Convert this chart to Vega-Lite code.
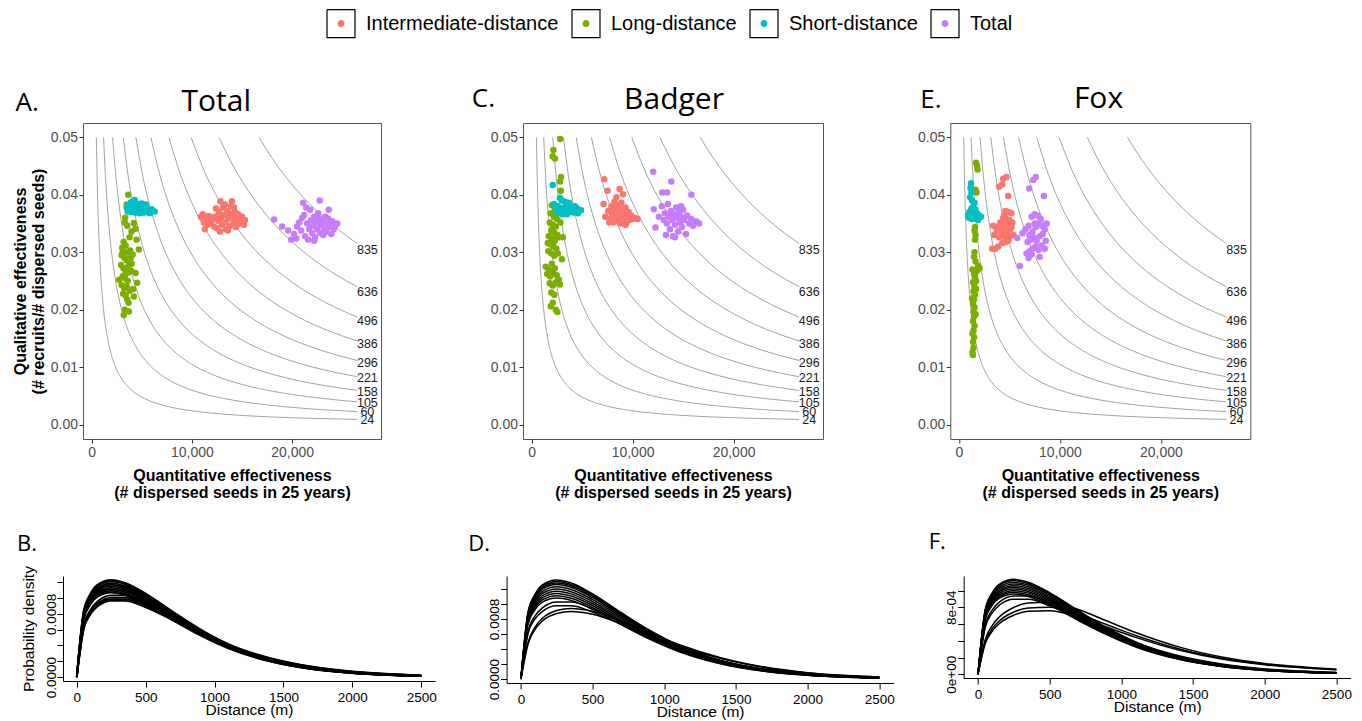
{
"$schema":"https://vega.github.io/schema/vega-lite/v6.json",
"background":"white",
"padding":{"left":12,"top":8,"right":5,"bottom":5},
"config":{"view":{"stroke":"#555555","strokeWidth":1},"font":"Liberation Sans","axis":{"grid":false,"labelFont":"Liberation Sans","titleFont":"Liberation Sans"}},
"datasets":{
"iso":[
{"E":24,"x":480,"y":0.05},{"E":24,"x":552,"y":0.043478},{"E":24,"x":624,"y":0.038462},{"E":24,"x":720,"y":0.033333},{"E":24,"x":840,"y":0.028571},{"E":24,"x":960,"y":0.025},{"E":24,"x":1128,"y":0.021277},{"E":24,"x":1320,"y":0.018182},{"E":24,"x":1560,"y":0.015385},{"E":24,"x":1848,"y":0.012987},{"E":24,"x":2160,"y":0.011111},{"E":24,"x":2520,"y":0.009524},{"E":24,"x":3000,"y":0.008},{"E":24,"x":3600,"y":0.006667},{"E":24,"x":4320,"y":0.005556},{"E":24,"x":5280,"y":0.004545},{"E":24,"x":6480,"y":0.003704},{"E":24,"x":7920,"y":0.00303},{"E":24,"x":9600,"y":0.0025},{"E":24,"x":12000,"y":0.002},{"E":24,"x":14400,"y":0.001667},{"E":24,"x":18000,"y":0.001333},{"E":24,"x":21600,"y":0.001111},{"E":24,"x":26500,"y":0.000906},
{"E":60,"x":1200,"y":0.05},{"E":60,"x":1380,"y":0.043478},{"E":60,"x":1560,"y":0.038462},{"E":60,"x":1800,"y":0.033333},{"E":60,"x":2100,"y":0.028571},{"E":60,"x":2400,"y":0.025},{"E":60,"x":2820,"y":0.021277},{"E":60,"x":3300,"y":0.018182},{"E":60,"x":3900,"y":0.015385},{"E":60,"x":4620,"y":0.012987},{"E":60,"x":5400,"y":0.011111},{"E":60,"x":6300,"y":0.009524},{"E":60,"x":7500,"y":0.008},{"E":60,"x":9000,"y":0.006667},{"E":60,"x":10800,"y":0.005556},{"E":60,"x":13200,"y":0.004545},{"E":60,"x":16200,"y":0.003704},{"E":60,"x":19800,"y":0.00303},{"E":60,"x":24000,"y":0.0025},{"E":60,"x":26500,"y":0.002264},
{"E":105,"x":2100,"y":0.05},{"E":105,"x":2415,"y":0.043478},{"E":105,"x":2730,"y":0.038462},{"E":105,"x":3150,"y":0.033333},{"E":105,"x":3675,"y":0.028571},{"E":105,"x":4200,"y":0.025},{"E":105,"x":4935,"y":0.021277},{"E":105,"x":5775,"y":0.018182},{"E":105,"x":6825,"y":0.015385},{"E":105,"x":8085,"y":0.012987},{"E":105,"x":9450,"y":0.011111},{"E":105,"x":11025,"y":0.009524},{"E":105,"x":13125,"y":0.008},{"E":105,"x":15750,"y":0.006667},{"E":105,"x":18900,"y":0.005556},{"E":105,"x":23100,"y":0.004545},{"E":105,"x":26500,"y":0.003962},
{"E":158,"x":3160,"y":0.05},{"E":158,"x":3634,"y":0.043478},{"E":158,"x":4108,"y":0.038462},{"E":158,"x":4740,"y":0.033333},{"E":158,"x":5530,"y":0.028571},{"E":158,"x":6320,"y":0.025},{"E":158,"x":7426,"y":0.021277},{"E":158,"x":8690,"y":0.018182},{"E":158,"x":10270,"y":0.015385},{"E":158,"x":12166,"y":0.012987},{"E":158,"x":14220,"y":0.011111},{"E":158,"x":16590,"y":0.009524},{"E":158,"x":19750,"y":0.008},{"E":158,"x":23700,"y":0.006667},{"E":158,"x":26500,"y":0.005962},
{"E":221,"x":4420,"y":0.05},{"E":221,"x":5083,"y":0.043478},{"E":221,"x":5746,"y":0.038462},{"E":221,"x":6630,"y":0.033333},{"E":221,"x":7735,"y":0.028571},{"E":221,"x":8840,"y":0.025},{"E":221,"x":10387,"y":0.021277},{"E":221,"x":12155,"y":0.018182},{"E":221,"x":14365,"y":0.015385},{"E":221,"x":17017,"y":0.012987},{"E":221,"x":19890,"y":0.011111},{"E":221,"x":23205,"y":0.009524},{"E":221,"x":26500,"y":0.00834},
{"E":296,"x":5920,"y":0.05},{"E":296,"x":6808,"y":0.043478},{"E":296,"x":7696,"y":0.038462},{"E":296,"x":8880,"y":0.033333},{"E":296,"x":10360,"y":0.028571},{"E":296,"x":11840,"y":0.025},{"E":296,"x":13912,"y":0.021277},{"E":296,"x":16280,"y":0.018182},{"E":296,"x":19240,"y":0.015385},{"E":296,"x":22792,"y":0.012987},{"E":296,"x":26500,"y":0.01117},
{"E":386,"x":7720,"y":0.05},{"E":386,"x":8878,"y":0.043478},{"E":386,"x":10036,"y":0.038462},{"E":386,"x":11580,"y":0.033333},{"E":386,"x":13510,"y":0.028571},{"E":386,"x":15440,"y":0.025},{"E":386,"x":18142,"y":0.021277},{"E":386,"x":21230,"y":0.018182},{"E":386,"x":25090,"y":0.015385},{"E":386,"x":26500,"y":0.014566},
{"E":496,"x":9920,"y":0.05},{"E":496,"x":11408,"y":0.043478},{"E":496,"x":12896,"y":0.038462},{"E":496,"x":14880,"y":0.033333},{"E":496,"x":17360,"y":0.028571},{"E":496,"x":19840,"y":0.025},{"E":496,"x":23312,"y":0.021277},{"E":496,"x":26500,"y":0.018717},
{"E":636,"x":12720,"y":0.05},{"E":636,"x":13674,"y":0.046512},{"E":636,"x":14628,"y":0.043478},{"E":636,"x":15582,"y":0.040816},{"E":636,"x":16536,"y":0.038462},{"E":636,"x":19080,"y":0.033333},{"E":636,"x":22260,"y":0.028571},{"E":636,"x":25440,"y":0.025},{"E":636,"x":26500,"y":0.024},
{"E":835,"x":16700,"y":0.05},{"E":835,"x":17953,"y":0.046512},{"E":835,"x":19205,"y":0.043478},{"E":835,"x":20458,"y":0.040816},{"E":835,"x":21710,"y":0.038462},{"E":835,"x":23380,"y":0.035714},{"E":835,"x":25050,"y":0.033333},{"E":835,"x":26500,"y":0.031509}
],
"isolab":[{"E":24,"x":27500,"y":0.000873},{"E":60,"x":27500,"y":0.002182},{"E":105,"x":27500,"y":0.003818},{"E":158,"x":27500,"y":0.005745},{"E":221,"x":27500,"y":0.008036},{"E":296,"x":27500,"y":0.010764},{"E":386,"x":27500,"y":0.014036},{"E":496,"x":27500,"y":0.018036},{"E":636,"x":27500,"y":0.023127},{"E":835,"x":27500,"y":0.030364}],
"ptsA":[
{"g":"Long-distance","x":3650,"y":0.0400},{"g":"Long-distance","x":3500,"y":0.0383},{"g":"Long-distance","x":3350,"y":0.0360},{"g":"Long-distance","x":3320,"y":0.0352},{"g":"Long-distance","x":3560,"y":0.0346},{"g":"Long-distance","x":4220,"y":0.0351},{"g":"Long-distance","x":4390,"y":0.0341},{"g":"Long-distance","x":3990,"y":0.0336},{"g":"Long-distance","x":3790,"y":0.0326},{"g":"Long-distance","x":4490,"y":0.0322},{"g":"Long-distance","x":4720,"y":0.0305},{"g":"Long-distance","x":3060,"y":0.0308},{"g":"Long-distance","x":3200,"y":0.0318},{"g":"Long-distance","x":3400,"y":0.0312},{"g":"Long-distance","x":3600,"y":0.0300},{"g":"Long-distance","x":3850,"y":0.0303},{"g":"Long-distance","x":4100,"y":0.0296},{"g":"Long-distance","x":3000,"y":0.0295},{"g":"Long-distance","x":3300,"y":0.0290},{"g":"Long-distance","x":3500,"y":0.0286},{"g":"Long-distance","x":3750,"y":0.0282},{"g":"Long-distance","x":4000,"y":0.0280},{"g":"Long-distance","x":2950,"y":0.0278},{"g":"Long-distance","x":3200,"y":0.0272},{"g":"Long-distance","x":3450,"y":0.0270},{"g":"Long-distance","x":3700,"y":0.0265},{"g":"Long-distance","x":3950,"y":0.0268},{"g":"Long-distance","x":4400,"y":0.0264},{"g":"Long-distance","x":3100,"y":0.0258},{"g":"Long-distance","x":3350,"y":0.0255},{"g":"Long-distance","x":3600,"y":0.0250},{"g":"Long-distance","x":4550,"y":0.0247},{"g":"Long-distance","x":2750,"y":0.0252},{"g":"Long-distance","x":3000,"y":0.0243},{"g":"Long-distance","x":3250,"y":0.0238},{"g":"Long-distance","x":3500,"y":0.0240},{"g":"Long-distance","x":3800,"y":0.0233},{"g":"Long-distance","x":4150,"y":0.0236},{"g":"Long-distance","x":3150,"y":0.0228},{"g":"Long-distance","x":3400,"y":0.0225},{"g":"Long-distance","x":3560,"y":0.0218},{"g":"Long-distance","x":4220,"y":0.0223},{"g":"Long-distance","x":3700,"y":0.0212},{"g":"Long-distance","x":3320,"y":0.0200},{"g":"Long-distance","x":3720,"y":0.0197},{"g":"Long-distance","x":3220,"y":0.0191},{"g":"Long-distance","x":3400,"y":0.0263},{"g":"Long-distance","x":3650,"y":0.0275},{"g":"Long-distance","x":3900,"y":0.0290},{"g":"Long-distance","x":3100,"y":0.0300},
{"g":"Short-distance","x":3500,"y":0.0378},{"g":"Short-distance","x":3700,"y":0.0382},{"g":"Short-distance","x":3900,"y":0.0386},{"g":"Short-distance","x":4100,"y":0.0389},{"g":"Short-distance","x":4300,"y":0.0391},{"g":"Short-distance","x":4500,"y":0.0385},{"g":"Short-distance","x":4700,"y":0.0383},{"g":"Short-distance","x":4900,"y":0.0380},{"g":"Short-distance","x":5100,"y":0.0378},{"g":"Short-distance","x":5300,"y":0.0379},{"g":"Short-distance","x":5500,"y":0.0376},{"g":"Short-distance","x":5700,"y":0.0374},{"g":"Short-distance","x":5900,"y":0.0373},{"g":"Short-distance","x":6100,"y":0.0372},{"g":"Short-distance","x":6300,"y":0.0371},{"g":"Short-distance","x":3800,"y":0.0375},{"g":"Short-distance","x":4000,"y":0.0378},{"g":"Short-distance","x":4200,"y":0.0376},{"g":"Short-distance","x":4400,"y":0.0377},{"g":"Short-distance","x":4600,"y":0.0374},{"g":"Short-distance","x":4800,"y":0.0375},{"g":"Short-distance","x":5000,"y":0.0373},{"g":"Short-distance","x":5200,"y":0.0372},{"g":"Short-distance","x":5400,"y":0.0373},{"g":"Short-distance","x":5600,"y":0.0371},{"g":"Short-distance","x":4400,"y":0.0369},{"g":"Short-distance","x":4800,"y":0.0368},{"g":"Short-distance","x":5200,"y":0.0369},{"g":"Short-distance","x":5800,"y":0.0368},{"g":"Short-distance","x":3600,"y":0.0371},{"g":"Short-distance","x":4000,"y":0.0370},{"g":"Short-distance","x":4600,"y":0.0381},{"g":"Short-distance","x":5000,"y":0.0385},{"g":"Short-distance","x":5400,"y":0.0383},{"g":"Short-distance","x":6000,"y":0.0375},
{"g":"Intermediate-distance","x":10900,"y":0.0362},{"g":"Intermediate-distance","x":11100,"y":0.0366},{"g":"Intermediate-distance","x":11200,"y":0.0352},{"g":"Intermediate-distance","x":11300,"y":0.0340},{"g":"Intermediate-distance","x":11500,"y":0.0358},{"g":"Intermediate-distance","x":11700,"y":0.0363},{"g":"Intermediate-distance","x":11900,"y":0.0350},{"g":"Intermediate-distance","x":12000,"y":0.0357},{"g":"Intermediate-distance","x":12200,"y":0.0345},{"g":"Intermediate-distance","x":12300,"y":0.0362},{"g":"Intermediate-distance","x":12500,"y":0.0342},{"g":"Intermediate-distance","x":12600,"y":0.0355},{"g":"Intermediate-distance","x":12700,"y":0.0370},{"g":"Intermediate-distance","x":12850,"y":0.0389},{"g":"Intermediate-distance","x":12900,"y":0.0360},{"g":"Intermediate-distance","x":13000,"y":0.0348},{"g":"Intermediate-distance","x":13100,"y":0.0378},{"g":"Intermediate-distance","x":13200,"y":0.0365},{"g":"Intermediate-distance","x":13300,"y":0.0352},{"g":"Intermediate-distance","x":13400,"y":0.0340},{"g":"Intermediate-distance","x":13500,"y":0.0372},{"g":"Intermediate-distance","x":13600,"y":0.0358},{"g":"Intermediate-distance","x":13700,"y":0.0368},{"g":"Intermediate-distance","x":13800,"y":0.0346},{"g":"Intermediate-distance","x":13900,"y":0.0380},{"g":"Intermediate-distance","x":14000,"y":0.0389},{"g":"Intermediate-distance","x":14100,"y":0.0362},{"g":"Intermediate-distance","x":14200,"y":0.0352},{"g":"Intermediate-distance","x":14300,"y":0.0370},{"g":"Intermediate-distance","x":14400,"y":0.0344},{"g":"Intermediate-distance","x":14500,"y":0.0358},{"g":"Intermediate-distance","x":14600,"y":0.0366},{"g":"Intermediate-distance","x":14700,"y":0.0350},{"g":"Intermediate-distance","x":14850,"y":0.0354},{"g":"Intermediate-distance","x":15000,"y":0.0362},{"g":"Intermediate-distance","x":15200,"y":0.0348},{"g":"Intermediate-distance","x":15300,"y":0.0356},{"g":"Intermediate-distance","x":12400,"y":0.0376},{"g":"Intermediate-distance","x":13300,"y":0.0383},{"g":"Intermediate-distance","x":14200,"y":0.0378},{"g":"Intermediate-distance","x":11600,"y":0.0348},{"g":"Intermediate-distance","x":12800,"y":0.0336},{"g":"Intermediate-distance","x":13600,"y":0.0338},
{"g":"Total","x":18200,"y":0.0357},{"g":"Total","x":19000,"y":0.0345},{"g":"Total","x":19600,"y":0.0338},{"g":"Total","x":19900,"y":0.0322},{"g":"Total","x":20200,"y":0.0332},{"g":"Total","x":20500,"y":0.0345},{"g":"Total","x":20700,"y":0.0352},{"g":"Total","x":20900,"y":0.0338},{"g":"Total","x":21100,"y":0.0386},{"g":"Total","x":21200,"y":0.0365},{"g":"Total","x":21300,"y":0.0328},{"g":"Total","x":21500,"y":0.0350},{"g":"Total","x":21600,"y":0.0322},{"g":"Total","x":21700,"y":0.0340},{"g":"Total","x":21800,"y":0.0374},{"g":"Total","x":21900,"y":0.0356},{"g":"Total","x":22000,"y":0.0333},{"g":"Total","x":22100,"y":0.0346},{"g":"Total","x":22200,"y":0.0362},{"g":"Total","x":22300,"y":0.0326},{"g":"Total","x":22400,"y":0.0352},{"g":"Total","x":22500,"y":0.0340},{"g":"Total","x":22600,"y":0.0368},{"g":"Total","x":22750,"y":0.0390},{"g":"Total","x":22800,"y":0.0334},{"g":"Total","x":22900,"y":0.0348},{"g":"Total","x":23000,"y":0.0356},{"g":"Total","x":23100,"y":0.0330},{"g":"Total","x":23200,"y":0.0342},{"g":"Total","x":23300,"y":0.0362},{"g":"Total","x":23400,"y":0.0336},{"g":"Total","x":23500,"y":0.0350},{"g":"Total","x":23650,"y":0.0374},{"g":"Total","x":23800,"y":0.0344},{"g":"Total","x":23900,"y":0.0332},{"g":"Total","x":24000,"y":0.0354},{"g":"Total","x":24150,"y":0.0340},{"g":"Total","x":24300,"y":0.0346},{"g":"Total","x":24500,"y":0.0350},{"g":"Total","x":20400,"y":0.0324},{"g":"Total","x":21000,"y":0.0360},{"g":"Total","x":21400,"y":0.0378},{"g":"Total","x":22200,"y":0.0320},{"g":"Total","x":22700,"y":0.0358},{"g":"Total","x":23600,"y":0.0358}
],
"ptsC":[
{"g":"Long-distance","x":2820,"y":0.0497},{"g":"Long-distance","x":2160,"y":0.0478},{"g":"Long-distance","x":2090,"y":0.0467},{"g":"Long-distance","x":2320,"y":0.0463},{"g":"Long-distance","x":2920,"y":0.0431},{"g":"Long-distance","x":2820,"y":0.0423},{"g":"Long-distance","x":2890,"y":0.0407},{"g":"Long-distance","x":2000,"y":0.0382},{"g":"Long-distance","x":2300,"y":0.0376},{"g":"Long-distance","x":2600,"y":0.0372},{"g":"Long-distance","x":1900,"y":0.0368},{"g":"Long-distance","x":2200,"y":0.0362},{"g":"Long-distance","x":2500,"y":0.0358},{"g":"Long-distance","x":1800,"y":0.0352},{"g":"Long-distance","x":2100,"y":0.0348},{"g":"Long-distance","x":2400,"y":0.0345},{"g":"Long-distance","x":2850,"y":0.0352},{"g":"Long-distance","x":1950,"y":0.0338},{"g":"Long-distance","x":2250,"y":0.0334},{"g":"Long-distance","x":2550,"y":0.0330},{"g":"Long-distance","x":1700,"y":0.0328},{"g":"Long-distance","x":2000,"y":0.0324},{"g":"Long-distance","x":2300,"y":0.0320},{"g":"Long-distance","x":2700,"y":0.0326},{"g":"Long-distance","x":3100,"y":0.0326},{"g":"Long-distance","x":1850,"y":0.0314},{"g":"Long-distance","x":2150,"y":0.0310},{"g":"Long-distance","x":2450,"y":0.0306},{"g":"Long-distance","x":1650,"y":0.0302},{"g":"Long-distance","x":1950,"y":0.0298},{"g":"Long-distance","x":2250,"y":0.0294},{"g":"Long-distance","x":2600,"y":0.0298},{"g":"Long-distance","x":3000,"y":0.0288},{"g":"Long-distance","x":1400,"y":0.0275},{"g":"Long-distance","x":1700,"y":0.0270},{"g":"Long-distance","x":2000,"y":0.0280},{"g":"Long-distance","x":2300,"y":0.0272},{"g":"Long-distance","x":1550,"y":0.0262},{"g":"Long-distance","x":1850,"y":0.0258},{"g":"Long-distance","x":2150,"y":0.0264},{"g":"Long-distance","x":2500,"y":0.0260},{"g":"Long-distance","x":1800,"y":0.0246},{"g":"Long-distance","x":2100,"y":0.0242},{"g":"Long-distance","x":2400,"y":0.0248},{"g":"Long-distance","x":2800,"y":0.0244},{"g":"Long-distance","x":1950,"y":0.0230},{"g":"Long-distance","x":2250,"y":0.0226},{"g":"Long-distance","x":2100,"y":0.0212},{"g":"Long-distance","x":1900,"y":0.0206},{"g":"Long-distance","x":2400,"y":0.0200},{"g":"Long-distance","x":2550,"y":0.0196},{"g":"Long-distance","x":2700,"y":0.0252},{"g":"Long-distance","x":1600,"y":0.0316},
{"g":"Short-distance","x":2090,"y":0.0417},{"g":"Short-distance","x":2800,"y":0.0395},{"g":"Short-distance","x":3000,"y":0.0390},{"g":"Short-distance","x":3300,"y":0.0388},{"g":"Short-distance","x":3500,"y":0.0382},{"g":"Short-distance","x":3700,"y":0.0386},{"g":"Short-distance","x":3900,"y":0.0380},{"g":"Short-distance","x":4100,"y":0.0378},{"g":"Short-distance","x":4300,"y":0.0380},{"g":"Short-distance","x":4500,"y":0.0376},{"g":"Short-distance","x":4700,"y":0.0374},{"g":"Short-distance","x":4900,"y":0.0373},{"g":"Short-distance","x":2600,"y":0.0380},{"g":"Short-distance","x":2900,"y":0.0377},{"g":"Short-distance","x":3200,"y":0.0374},{"g":"Short-distance","x":3400,"y":0.0371},{"g":"Short-distance","x":3600,"y":0.0373},{"g":"Short-distance","x":3800,"y":0.0370},{"g":"Short-distance","x":4000,"y":0.0372},{"g":"Short-distance","x":4200,"y":0.0369},{"g":"Short-distance","x":4400,"y":0.0371},{"g":"Short-distance","x":4600,"y":0.0368},{"g":"Short-distance","x":2400,"y":0.0372},{"g":"Short-distance","x":2700,"y":0.0368},{"g":"Short-distance","x":3100,"y":0.0366},{"g":"Short-distance","x":3500,"y":0.0366},{"g":"Short-distance","x":3900,"y":0.0376},{"g":"Short-distance","x":4300,"y":0.0374},{"g":"Short-distance","x":2200,"y":0.0384},{"g":"Short-distance","x":3300,"y":0.0378},
{"g":"Intermediate-distance","x":7200,"y":0.0427},{"g":"Intermediate-distance","x":7530,"y":0.0407},{"g":"Intermediate-distance","x":8720,"y":0.0410},{"g":"Intermediate-distance","x":9060,"y":0.0401},{"g":"Intermediate-distance","x":8400,"y":0.0396},{"g":"Intermediate-distance","x":7130,"y":0.0384},{"g":"Intermediate-distance","x":7300,"y":0.0362},{"g":"Intermediate-distance","x":7600,"y":0.0372},{"g":"Intermediate-distance","x":7800,"y":0.0358},{"g":"Intermediate-distance","x":7900,"y":0.0380},{"g":"Intermediate-distance","x":8000,"y":0.0366},{"g":"Intermediate-distance","x":8100,"y":0.0352},{"g":"Intermediate-distance","x":8200,"y":0.0374},{"g":"Intermediate-distance","x":8300,"y":0.0360},{"g":"Intermediate-distance","x":8400,"y":0.0382},{"g":"Intermediate-distance","x":8500,"y":0.0356},{"g":"Intermediate-distance","x":8600,"y":0.0368},{"g":"Intermediate-distance","x":8700,"y":0.0376},{"g":"Intermediate-distance","x":8800,"y":0.0350},{"g":"Intermediate-distance","x":8900,"y":0.0362},{"g":"Intermediate-distance","x":9000,"y":0.0372},{"g":"Intermediate-distance","x":9100,"y":0.0356},{"g":"Intermediate-distance","x":9200,"y":0.0366},{"g":"Intermediate-distance","x":9300,"y":0.0378},{"g":"Intermediate-distance","x":9400,"y":0.0352},{"g":"Intermediate-distance","x":9500,"y":0.0362},{"g":"Intermediate-distance","x":9600,"y":0.0370},{"g":"Intermediate-distance","x":9700,"y":0.0356},{"g":"Intermediate-distance","x":9850,"y":0.0364},{"g":"Intermediate-distance","x":10000,"y":0.0358},{"g":"Intermediate-distance","x":10200,"y":0.0360},{"g":"Intermediate-distance","x":10500,"y":0.0358},{"g":"Intermediate-distance","x":8200,"y":0.0388},{"g":"Intermediate-distance","x":8900,"y":0.0386},{"g":"Intermediate-distance","x":7700,"y":0.0352},{"g":"Intermediate-distance","x":9300,"y":0.0348},
{"g":"Total","x":12040,"y":0.0440},{"g":"Total","x":13830,"y":0.0423},{"g":"Total","x":15820,"y":0.0400},{"g":"Total","x":12940,"y":0.0404},{"g":"Total","x":13430,"y":0.0404},{"g":"Total","x":12100,"y":0.0375},{"g":"Total","x":12270,"y":0.0343},{"g":"Total","x":12600,"y":0.0362},{"g":"Total","x":12900,"y":0.0380},{"g":"Total","x":13100,"y":0.0356},{"g":"Total","x":13200,"y":0.0368},{"g":"Total","x":13400,"y":0.0350},{"g":"Total","x":13500,"y":0.0384},{"g":"Total","x":13600,"y":0.0362},{"g":"Total","x":13700,"y":0.0340},{"g":"Total","x":13800,"y":0.0372},{"g":"Total","x":13900,"y":0.0356},{"g":"Total","x":14000,"y":0.0328},{"g":"Total","x":14100,"y":0.0366},{"g":"Total","x":14200,"y":0.0348},{"g":"Total","x":14300,"y":0.0378},{"g":"Total","x":14400,"y":0.0360},{"g":"Total","x":14500,"y":0.0336},{"g":"Total","x":14600,"y":0.0370},{"g":"Total","x":14700,"y":0.0352},{"g":"Total","x":14800,"y":0.0362},{"g":"Total","x":14900,"y":0.0344},{"g":"Total","x":15000,"y":0.0374},{"g":"Total","x":15100,"y":0.0356},{"g":"Total","x":15300,"y":0.0332},{"g":"Total","x":15400,"y":0.0364},{"g":"Total","x":15600,"y":0.0350},{"g":"Total","x":15800,"y":0.0358},{"g":"Total","x":16000,"y":0.0346},{"g":"Total","x":16300,"y":0.0354},{"g":"Total","x":16600,"y":0.0350},{"g":"Total","x":13300,"y":0.0330},{"g":"Total","x":14200,"y":0.0326},{"g":"Total","x":14800,"y":0.0380}
],
"ptsE":[
{"g":"Long-distance","x":1700,"y":0.0456},{"g":"Long-distance","x":1800,"y":0.0450},{"g":"Long-distance","x":1850,"y":0.0444},{"g":"Long-distance","x":1650,"y":0.0409},{"g":"Long-distance","x":1750,"y":0.0404},{"g":"Long-distance","x":1600,"y":0.0344},{"g":"Long-distance","x":1550,"y":0.0338},{"g":"Long-distance","x":1650,"y":0.0330},{"g":"Long-distance","x":1600,"y":0.0322},{"g":"Long-distance","x":1550,"y":0.0300},{"g":"Long-distance","x":1500,"y":0.0292},{"g":"Long-distance","x":1650,"y":0.0284},{"g":"Long-distance","x":1900,"y":0.0276},{"g":"Long-distance","x":2050,"y":0.0272},{"g":"Long-distance","x":1800,"y":0.0268},{"g":"Long-distance","x":1500,"y":0.0262},{"g":"Long-distance","x":1600,"y":0.0254},{"g":"Long-distance","x":1400,"y":0.0248},{"g":"Long-distance","x":1700,"y":0.0250},{"g":"Long-distance","x":1550,"y":0.0240},{"g":"Long-distance","x":1450,"y":0.0232},{"g":"Long-distance","x":1600,"y":0.0226},{"g":"Long-distance","x":1500,"y":0.0218},{"g":"Long-distance","x":1400,"y":0.0210},{"g":"Long-distance","x":1550,"y":0.0204},{"g":"Long-distance","x":1450,"y":0.0196},{"g":"Long-distance","x":1500,"y":0.0188},{"g":"Long-distance","x":1400,"y":0.0180},{"g":"Long-distance","x":1550,"y":0.0172},{"g":"Long-distance","x":1450,"y":0.0164},{"g":"Long-distance","x":1350,"y":0.0158},{"g":"Long-distance","x":1500,"y":0.0152},{"g":"Long-distance","x":1400,"y":0.0144},{"g":"Long-distance","x":1450,"y":0.0134},{"g":"Long-distance","x":1350,"y":0.0126},{"g":"Long-distance","x":1400,"y":0.0121},{"g":"Long-distance","x":1600,"y":0.0260},{"g":"Long-distance","x":1350,"y":0.0270},{"g":"Long-distance","x":1700,"y":0.0236},{"g":"Long-distance","x":1300,"y":0.0220},{"g":"Long-distance","x":1650,"y":0.0192},
{"g":"Short-distance","x":1200,"y":0.0420},{"g":"Short-distance","x":1150,"y":0.0412},{"g":"Short-distance","x":1250,"y":0.0404},{"g":"Short-distance","x":1100,"y":0.0396},{"g":"Short-distance","x":1300,"y":0.0390},{"g":"Short-distance","x":1550,"y":0.0386},{"g":"Short-distance","x":1450,"y":0.0380},{"g":"Short-distance","x":1250,"y":0.0376},{"g":"Short-distance","x":1650,"y":0.0374},{"g":"Short-distance","x":1050,"y":0.0370},{"g":"Short-distance","x":1350,"y":0.0368},{"g":"Short-distance","x":1800,"y":0.0368},{"g":"Short-distance","x":900,"y":0.0364},{"g":"Short-distance","x":1150,"y":0.0362},{"g":"Short-distance","x":1500,"y":0.0362},{"g":"Short-distance","x":2000,"y":0.0364},{"g":"Short-distance","x":2200,"y":0.0362},{"g":"Short-distance","x":1300,"y":0.0358},{"g":"Short-distance","x":1700,"y":0.0358},{"g":"Short-distance","x":1900,"y":0.0356},{"g":"Short-distance","x":1000,"y":0.0360},{"g":"Short-distance","x":1600,"y":0.0366},
{"g":"Intermediate-distance","x":4720,"y":0.0431},{"g":"Intermediate-distance","x":4390,"y":0.0428},{"g":"Intermediate-distance","x":3990,"y":0.0414},{"g":"Intermediate-distance","x":4300,"y":0.0418},{"g":"Intermediate-distance","x":4880,"y":0.0398},{"g":"Intermediate-distance","x":4600,"y":0.0372},{"g":"Intermediate-distance","x":4900,"y":0.0370},{"g":"Intermediate-distance","x":5200,"y":0.0368},{"g":"Intermediate-distance","x":4400,"y":0.0360},{"g":"Intermediate-distance","x":4700,"y":0.0358},{"g":"Intermediate-distance","x":5000,"y":0.0356},{"g":"Intermediate-distance","x":4100,"y":0.0352},{"g":"Intermediate-distance","x":3400,"y":0.0346},{"g":"Intermediate-distance","x":3700,"y":0.0344},{"g":"Intermediate-distance","x":4000,"y":0.0346},{"g":"Intermediate-distance","x":4300,"y":0.0348},{"g":"Intermediate-distance","x":4600,"y":0.0346},{"g":"Intermediate-distance","x":4900,"y":0.0350},{"g":"Intermediate-distance","x":5300,"y":0.0352},{"g":"Intermediate-distance","x":3800,"y":0.0338},{"g":"Intermediate-distance","x":4200,"y":0.0336},{"g":"Intermediate-distance","x":4500,"y":0.0338},{"g":"Intermediate-distance","x":4800,"y":0.0334},{"g":"Intermediate-distance","x":5100,"y":0.0340},{"g":"Intermediate-distance","x":3500,"y":0.0330},{"g":"Intermediate-distance","x":4000,"y":0.0326},{"g":"Intermediate-distance","x":4400,"y":0.0328},{"g":"Intermediate-distance","x":4700,"y":0.0324},{"g":"Intermediate-distance","x":5000,"y":0.0326},{"g":"Intermediate-distance","x":5400,"y":0.0330},{"g":"Intermediate-distance","x":3300,"y":0.0306},{"g":"Intermediate-distance","x":3600,"y":0.0306},{"g":"Intermediate-distance","x":3900,"y":0.0310},{"g":"Intermediate-distance","x":4300,"y":0.0316},{"g":"Intermediate-distance","x":4600,"y":0.0318},{"g":"Intermediate-distance","x":4900,"y":0.0320},{"g":"Intermediate-distance","x":5200,"y":0.0344},{"g":"Intermediate-distance","x":4500,"y":0.0364},
{"g":"Total","x":7620,"y":0.0431},{"g":"Total","x":7360,"y":0.0426},{"g":"Total","x":6960,"y":0.0411},{"g":"Total","x":8420,"y":0.0398},{"g":"Total","x":6040,"y":0.0276},{"g":"Total","x":5780,"y":0.0325},{"g":"Total","x":6300,"y":0.0333},{"g":"Total","x":6600,"y":0.0340},{"g":"Total","x":6900,"y":0.0346},{"g":"Total","x":7200,"y":0.0362},{"g":"Total","x":7500,"y":0.0366},{"g":"Total","x":7800,"y":0.0364},{"g":"Total","x":8100,"y":0.0358},{"g":"Total","x":7000,"y":0.0330},{"g":"Total","x":7300,"y":0.0336},{"g":"Total","x":7600,"y":0.0344},{"g":"Total","x":7900,"y":0.0350},{"g":"Total","x":8200,"y":0.0346},{"g":"Total","x":8500,"y":0.0340},{"g":"Total","x":6800,"y":0.0318},{"g":"Total","x":7100,"y":0.0322},{"g":"Total","x":7400,"y":0.0326},{"g":"Total","x":7700,"y":0.0320},{"g":"Total","x":8000,"y":0.0328},{"g":"Total","x":8300,"y":0.0332},{"g":"Total","x":8600,"y":0.0320},{"g":"Total","x":6700,"y":0.0298},{"g":"Total","x":7000,"y":0.0302},{"g":"Total","x":7300,"y":0.0306},{"g":"Total","x":7600,"y":0.0310},{"g":"Total","x":7900,"y":0.0304},{"g":"Total","x":8200,"y":0.0312},{"g":"Total","x":8500,"y":0.0306},{"g":"Total","x":6900,"y":0.0290},{"g":"Total","x":7200,"y":0.0296},{"g":"Total","x":8000,"y":0.0292},{"g":"Total","x":7500,"y":0.0350},{"g":"Total","x":8700,"y":0.0350}
],
"curvB":[
{"c":1,"d":0,"v":0},{"c":1,"d":50,"v":0.000836},{"c":1,"d":100,"v":0.001058},{"c":1,"d":150,"v":0.001169},{"c":1,"d":250,"v":0.00123},{"c":1,"d":350,"v":0.001193},{"c":1,"d":500,"v":0.001058},{"c":1,"d":700,"v":0.000824},{"c":1,"d":900,"v":0.000603},{"c":1,"d":1100,"v":0.000418},{"c":1,"d":1400,"v":0.000228},{"c":1,"d":1700,"v":0.000117},{"c":1,"d":2000,"v":0.000058},{"c":1,"d":2500,"v":0.000016},
{"c":2,"d":0,"v":0},{"c":2,"d":50,"v":0.000823},{"c":2,"d":100,"v":0.001041},{"c":2,"d":150,"v":0.00115},{"c":2,"d":250,"v":0.00121},{"c":2,"d":350,"v":0.001174},{"c":2,"d":500,"v":0.001041},{"c":2,"d":700,"v":0.000811},{"c":2,"d":900,"v":0.000593},{"c":2,"d":1100,"v":0.000411},{"c":2,"d":1400,"v":0.000224},{"c":2,"d":1700,"v":0.000115},{"c":2,"d":2000,"v":0.000057},{"c":2,"d":2500,"v":0.000016},
{"c":3,"d":0,"v":0},{"c":3,"d":50,"v":0.000809},{"c":3,"d":100,"v":0.001023},{"c":3,"d":150,"v":0.001131},{"c":3,"d":250,"v":0.00119},{"c":3,"d":350,"v":0.001154},{"c":3,"d":500,"v":0.001023},{"c":3,"d":700,"v":0.000797},{"c":3,"d":900,"v":0.000583},{"c":3,"d":1100,"v":0.000405},{"c":3,"d":1400,"v":0.00022},{"c":3,"d":1700,"v":0.000113},{"c":3,"d":2000,"v":0.000056},{"c":3,"d":2500,"v":0.000015},
{"c":4,"d":0,"v":0},{"c":4,"d":50,"v":0.000796},{"c":4,"d":100,"v":0.001006},{"c":4,"d":150,"v":0.001112},{"c":4,"d":250,"v":0.00117},{"c":4,"d":350,"v":0.001135},{"c":4,"d":500,"v":0.001006},{"c":4,"d":700,"v":0.000784},{"c":4,"d":900,"v":0.000573},{"c":4,"d":1100,"v":0.000398},{"c":4,"d":1400,"v":0.000216},{"c":4,"d":1700,"v":0.000111},{"c":4,"d":2000,"v":0.000055},{"c":4,"d":2500,"v":0.000015},
{"c":5,"d":0,"v":0},{"c":5,"d":50,"v":0.000782},{"c":5,"d":100,"v":0.000989},{"c":5,"d":150,"v":0.001093},{"c":5,"d":250,"v":0.00115},{"c":5,"d":350,"v":0.001116},{"c":5,"d":500,"v":0.000989},{"c":5,"d":700,"v":0.000771},{"c":5,"d":900,"v":0.000564},{"c":5,"d":1100,"v":0.000391},{"c":5,"d":1400,"v":0.000213},{"c":5,"d":1700,"v":0.000109},{"c":5,"d":2000,"v":0.000054},{"c":5,"d":2500,"v":0.000015},
{"c":6,"d":0,"v":0},{"c":6,"d":50,"v":0.000768},{"c":6,"d":100,"v":0.000972},{"c":6,"d":150,"v":0.001074},{"c":6,"d":250,"v":0.00113},{"c":6,"d":350,"v":0.001096},{"c":6,"d":500,"v":0.000972},{"c":6,"d":700,"v":0.000757},{"c":6,"d":900,"v":0.000554},{"c":6,"d":1100,"v":0.000384},{"c":6,"d":1400,"v":0.000209},{"c":6,"d":1700,"v":0.000107},{"c":6,"d":2000,"v":0.000053},{"c":6,"d":2500,"v":0.000015},
{"c":7,"d":0,"v":0},{"c":7,"d":50,"v":0.000755},{"c":7,"d":100,"v":0.000955},{"c":7,"d":150,"v":0.001055},{"c":7,"d":250,"v":0.00111},{"c":7,"d":350,"v":0.001077},{"c":7,"d":500,"v":0.000955},{"c":7,"d":700,"v":0.000744},{"c":7,"d":900,"v":0.000544},{"c":7,"d":1100,"v":0.000377},{"c":7,"d":1400,"v":0.000205},{"c":7,"d":1700,"v":0.000105},{"c":7,"d":2000,"v":0.000052},{"c":7,"d":2500,"v":0.000014},
{"c":8,"d":0,"v":0},{"c":8,"d":50,"v":0.000741},{"c":8,"d":100,"v":0.000937},{"c":8,"d":150,"v":0.001036},{"c":8,"d":250,"v":0.00109},{"c":8,"d":350,"v":0.001057},{"c":8,"d":500,"v":0.000937},{"c":8,"d":700,"v":0.00073},{"c":8,"d":900,"v":0.000534},{"c":8,"d":1100,"v":0.000371},{"c":8,"d":1400,"v":0.000202},{"c":8,"d":1700,"v":0.000104},{"c":8,"d":2000,"v":0.000051},{"c":8,"d":2500,"v":0.000014},
{"c":9,"d":0,"v":0},{"c":9,"d":50,"v":0.000728},{"c":9,"d":100,"v":0.00092},{"c":9,"d":150,"v":0.001017},{"c":9,"d":250,"v":0.00107},{"c":9,"d":350,"v":0.001038},{"c":9,"d":500,"v":0.00092},{"c":9,"d":700,"v":0.000717},{"c":9,"d":900,"v":0.000524},{"c":9,"d":1100,"v":0.000364},{"c":9,"d":1400,"v":0.000198},{"c":9,"d":1700,"v":0.000102},{"c":9,"d":2000,"v":0.00005},{"c":9,"d":2500,"v":0.000014},
{"c":10,"d":0,"v":0},{"c":10,"d":50,"v":0.000645},{"c":10,"d":100,"v":0.000853},{"c":10,"d":150,"v":0.000957},{"c":10,"d":250,"v":0.001035},{"c":10,"d":350,"v":0.001035},{"c":10,"d":500,"v":0.000946},{"c":10,"d":700,"v":0.00077},{"c":10,"d":900,"v":0.000582},{"c":10,"d":1100,"v":0.000416},{"c":10,"d":1400,"v":0.000244},{"c":10,"d":1700,"v":0.000135},{"c":10,"d":2000,"v":0.000071},{"c":10,"d":2500,"v":0.000023},
{"c":11,"d":0,"v":0},{"c":11,"d":50,"v":0.000626},{"c":11,"d":100,"v":0.000828},{"c":11,"d":150,"v":0.000929},{"c":11,"d":250,"v":0.001005},{"c":11,"d":350,"v":0.001005},{"c":11,"d":500,"v":0.000919},{"c":11,"d":700,"v":0.000747},{"c":11,"d":900,"v":0.000566},{"c":11,"d":1100,"v":0.000404},{"c":11,"d":1400,"v":0.000237},{"c":11,"d":1700,"v":0.000131},{"c":11,"d":2000,"v":0.000069},{"c":11,"d":2500,"v":0.000022},
{"c":12,"d":0,"v":0},{"c":12,"d":50,"v":0.000614},{"c":12,"d":100,"v":0.000812},{"c":12,"d":150,"v":0.000911},{"c":12,"d":250,"v":0.000985},{"c":12,"d":350,"v":0.000985},{"c":12,"d":500,"v":0.000901},{"c":12,"d":700,"v":0.000733},{"c":12,"d":900,"v":0.000554},{"c":12,"d":1100,"v":0.000396},{"c":12,"d":1400,"v":0.000233},{"c":12,"d":1700,"v":0.000129},{"c":12,"d":2000,"v":0.000067},{"c":12,"d":2500,"v":0.000022},
{"c":13,"d":0,"v":0},{"c":13,"d":50,"v":0.000601},{"c":13,"d":100,"v":0.000795},{"c":13,"d":150,"v":0.000892},{"c":13,"d":250,"v":0.000965},{"c":13,"d":350,"v":0.000965},{"c":13,"d":500,"v":0.000883},{"c":13,"d":700,"v":0.000718},{"c":13,"d":900,"v":0.000543},{"c":13,"d":1100,"v":0.000388},{"c":13,"d":1400,"v":0.000228},{"c":13,"d":1700,"v":0.000126},{"c":13,"d":2000,"v":0.000066},{"c":13,"d":2500,"v":0.000021}
],
"curvD":[
{"c":1,"d":0,"v":0},{"c":1,"d":50,"v":0.000898},{"c":1,"d":100,"v":0.001135},{"c":1,"d":150,"v":0.001254},{"c":1,"d":250,"v":0.00132},{"c":1,"d":350,"v":0.00128},{"c":1,"d":500,"v":0.001135},{"c":1,"d":700,"v":0.000884},{"c":1,"d":900,"v":0.000647},{"c":1,"d":1100,"v":0.000449},{"c":1,"d":1400,"v":0.000244},{"c":1,"d":1700,"v":0.000125},{"c":1,"d":2000,"v":0.000062},{"c":1,"d":2500,"v":0.000017},
{"c":2,"d":0,"v":0},{"c":2,"d":50,"v":0.000884},{"c":2,"d":100,"v":0.001118},{"c":2,"d":150,"v":0.001235},{"c":2,"d":250,"v":0.0013},{"c":2,"d":350,"v":0.001261},{"c":2,"d":500,"v":0.001118},{"c":2,"d":700,"v":0.000871},{"c":2,"d":900,"v":0.000637},{"c":2,"d":1100,"v":0.000442},{"c":2,"d":1400,"v":0.000241},{"c":2,"d":1700,"v":0.000124},{"c":2,"d":2000,"v":0.000061},{"c":2,"d":2500,"v":0.000017},
{"c":3,"d":0,"v":0},{"c":3,"d":50,"v":0.00087},{"c":3,"d":100,"v":0.001101},{"c":3,"d":150,"v":0.001216},{"c":3,"d":250,"v":0.00128},{"c":3,"d":350,"v":0.001242},{"c":3,"d":500,"v":0.001101},{"c":3,"d":700,"v":0.000858},{"c":3,"d":900,"v":0.000627},{"c":3,"d":1100,"v":0.000435},{"c":3,"d":1400,"v":0.000237},{"c":3,"d":1700,"v":0.000122},{"c":3,"d":2000,"v":0.00006},{"c":3,"d":2500,"v":0.000017},
{"c":4,"d":0,"v":0},{"c":4,"d":50,"v":0.000857},{"c":4,"d":100,"v":0.001084},{"c":4,"d":150,"v":0.001197},{"c":4,"d":250,"v":0.00126},{"c":4,"d":350,"v":0.001222},{"c":4,"d":500,"v":0.001084},{"c":4,"d":700,"v":0.000844},{"c":4,"d":900,"v":0.000617},{"c":4,"d":1100,"v":0.000428},{"c":4,"d":1400,"v":0.000233},{"c":4,"d":1700,"v":0.00012},{"c":4,"d":2000,"v":0.000059},{"c":4,"d":2500,"v":0.000016},
{"c":5,"d":0,"v":0},{"c":5,"d":50,"v":0.000836},{"c":5,"d":100,"v":0.001058},{"c":5,"d":150,"v":0.001169},{"c":5,"d":250,"v":0.00123},{"c":5,"d":350,"v":0.001193},{"c":5,"d":500,"v":0.001058},{"c":5,"d":700,"v":0.000824},{"c":5,"d":900,"v":0.000603},{"c":5,"d":1100,"v":0.000418},{"c":5,"d":1400,"v":0.000228},{"c":5,"d":1700,"v":0.000117},{"c":5,"d":2000,"v":0.000058},{"c":5,"d":2500,"v":0.000016},
{"c":6,"d":0,"v":0},{"c":6,"d":50,"v":0.000816},{"c":6,"d":100,"v":0.001032},{"c":6,"d":150,"v":0.00114},{"c":6,"d":250,"v":0.0012},{"c":6,"d":350,"v":0.001164},{"c":6,"d":500,"v":0.001032},{"c":6,"d":700,"v":0.000804},{"c":6,"d":900,"v":0.000588},{"c":6,"d":1100,"v":0.000408},{"c":6,"d":1400,"v":0.000222},{"c":6,"d":1700,"v":0.000114},{"c":6,"d":2000,"v":0.000056},{"c":6,"d":2500,"v":0.000016},
{"c":7,"d":0,"v":0},{"c":7,"d":50,"v":0.000796},{"c":7,"d":100,"v":0.001006},{"c":7,"d":150,"v":0.001112},{"c":7,"d":250,"v":0.00117},{"c":7,"d":350,"v":0.001135},{"c":7,"d":500,"v":0.001006},{"c":7,"d":700,"v":0.000784},{"c":7,"d":900,"v":0.000573},{"c":7,"d":1100,"v":0.000398},{"c":7,"d":1400,"v":0.000216},{"c":7,"d":1700,"v":0.000111},{"c":7,"d":2000,"v":0.000055},{"c":7,"d":2500,"v":0.000015},
{"c":8,"d":0,"v":0},{"c":8,"d":50,"v":0.000775},{"c":8,"d":100,"v":0.00098},{"c":8,"d":150,"v":0.001083},{"c":8,"d":250,"v":0.00114},{"c":8,"d":350,"v":0.001106},{"c":8,"d":500,"v":0.00098},{"c":8,"d":700,"v":0.000764},{"c":8,"d":900,"v":0.000559},{"c":8,"d":1100,"v":0.000388},{"c":8,"d":1400,"v":0.000211},{"c":8,"d":1700,"v":0.000108},{"c":8,"d":2000,"v":0.000054},{"c":8,"d":2500,"v":0.000015},
{"c":9,"d":0,"v":0},{"c":9,"d":50,"v":0.000755},{"c":9,"d":100,"v":0.000955},{"c":9,"d":150,"v":0.001055},{"c":9,"d":250,"v":0.00111},{"c":9,"d":350,"v":0.001077},{"c":9,"d":500,"v":0.000955},{"c":9,"d":700,"v":0.000744},{"c":9,"d":900,"v":0.000544},{"c":9,"d":1100,"v":0.000377},{"c":9,"d":1400,"v":0.000205},{"c":9,"d":1700,"v":0.000105},{"c":9,"d":2000,"v":0.000052},{"c":9,"d":2500,"v":0.000014},
{"c":10,"d":0,"v":0},{"c":10,"d":50,"v":0.000734},{"c":10,"d":100,"v":0.000929},{"c":10,"d":150,"v":0.001026},{"c":10,"d":250,"v":0.00108},{"c":10,"d":350,"v":0.001048},{"c":10,"d":500,"v":0.000929},{"c":10,"d":700,"v":0.000724},{"c":10,"d":900,"v":0.000529},{"c":10,"d":1100,"v":0.000367},{"c":10,"d":1400,"v":0.0002},{"c":10,"d":1700,"v":0.000103},{"c":10,"d":2000,"v":0.000051},{"c":10,"d":2500,"v":0.000014},
{"c":11,"d":0,"v":0},{"c":11,"d":50,"v":0.000639},{"c":11,"d":100,"v":0.000845},{"c":11,"d":150,"v":0.000948},{"c":11,"d":250,"v":0.001025},{"c":11,"d":350,"v":0.001025},{"c":11,"d":500,"v":0.000937},{"c":11,"d":700,"v":0.000762},{"c":11,"d":900,"v":0.000577},{"c":11,"d":1100,"v":0.000412},{"c":11,"d":1400,"v":0.000242},{"c":11,"d":1700,"v":0.000134},{"c":11,"d":2000,"v":0.00007},{"c":11,"d":2500,"v":0.000023},
{"c":12,"d":0,"v":0},{"c":12,"d":50,"v":0.000608},{"c":12,"d":100,"v":0.000804},{"c":12,"d":150,"v":0.000902},{"c":12,"d":250,"v":0.000975},{"c":12,"d":350,"v":0.000975},{"c":12,"d":500,"v":0.000892},{"c":12,"d":700,"v":0.000725},{"c":12,"d":900,"v":0.000549},{"c":12,"d":1100,"v":0.000392},{"c":12,"d":1400,"v":0.00023},{"c":12,"d":1700,"v":0.000127},{"c":12,"d":2000,"v":0.000067},{"c":12,"d":2500,"v":0.000022},
{"c":13,"d":0,"v":0},{"c":13,"d":50,"v":0.000489},{"c":13,"d":100,"v":0.000696},{"c":13,"d":150,"v":0.000808},{"c":13,"d":250,"v":0.000912},{"c":13,"d":350,"v":0.00094},{"c":13,"d":500,"v":0.000902},{"c":13,"d":700,"v":0.000771},{"c":13,"d":900,"v":0.000611},{"c":13,"d":1100,"v":0.000461},{"c":13,"d":1400,"v":0.000282},{"c":13,"d":1700,"v":0.00016},{"c":13,"d":2000,"v":0.000085},{"c":13,"d":2500,"v":0.000028},
{"c":14,"d":0,"v":0},{"c":14,"d":50,"v":0.000468},{"c":14,"d":100,"v":0.000666},{"c":14,"d":150,"v":0.000774},{"c":14,"d":250,"v":0.000873},{"c":14,"d":350,"v":0.0009},{"c":14,"d":500,"v":0.000864},{"c":14,"d":700,"v":0.000738},{"c":14,"d":900,"v":0.000585},{"c":14,"d":1100,"v":0.000441},{"c":14,"d":1400,"v":0.00027},{"c":14,"d":1700,"v":0.000153},{"c":14,"d":2000,"v":0.000081},{"c":14,"d":2500,"v":0.000027}
],
"curvF":[
{"c":1,"d":0,"v":0},{"c":1,"d":50,"v":0.000772},{"c":1,"d":100,"v":0.000976},{"c":1,"d":150,"v":0.001078},{"c":1,"d":250,"v":0.001135},{"c":1,"d":350,"v":0.001101},{"c":1,"d":500,"v":0.000976},{"c":1,"d":700,"v":0.00076},{"c":1,"d":900,"v":0.000556},{"c":1,"d":1100,"v":0.000386},{"c":1,"d":1400,"v":0.00021},{"c":1,"d":1700,"v":0.000108},{"c":1,"d":2000,"v":0.000053},{"c":1,"d":2500,"v":0.000015},
{"c":2,"d":0,"v":0},{"c":2,"d":50,"v":0.000762},{"c":2,"d":100,"v":0.000963},{"c":2,"d":150,"v":0.001064},{"c":2,"d":250,"v":0.00112},{"c":2,"d":350,"v":0.001086},{"c":2,"d":500,"v":0.000963},{"c":2,"d":700,"v":0.00075},{"c":2,"d":900,"v":0.000549},{"c":2,"d":1100,"v":0.000381},{"c":2,"d":1400,"v":0.000207},{"c":2,"d":1700,"v":0.000106},{"c":2,"d":2000,"v":0.000053},{"c":2,"d":2500,"v":0.000015},
{"c":3,"d":0,"v":0},{"c":3,"d":50,"v":0.000748},{"c":3,"d":100,"v":0.000946},{"c":3,"d":150,"v":0.001045},{"c":3,"d":250,"v":0.0011},{"c":3,"d":350,"v":0.001067},{"c":3,"d":500,"v":0.000946},{"c":3,"d":700,"v":0.000737},{"c":3,"d":900,"v":0.000539},{"c":3,"d":1100,"v":0.000374},{"c":3,"d":1400,"v":0.000204},{"c":3,"d":1700,"v":0.000105},{"c":3,"d":2000,"v":0.000052},{"c":3,"d":2500,"v":0.000014},
{"c":4,"d":0,"v":0},{"c":4,"d":50,"v":0.000734},{"c":4,"d":100,"v":0.000929},{"c":4,"d":150,"v":0.001026},{"c":4,"d":250,"v":0.00108},{"c":4,"d":350,"v":0.001048},{"c":4,"d":500,"v":0.000929},{"c":4,"d":700,"v":0.000724},{"c":4,"d":900,"v":0.000529},{"c":4,"d":1100,"v":0.000367},{"c":4,"d":1400,"v":0.0002},{"c":4,"d":1700,"v":0.000103},{"c":4,"d":2000,"v":0.000051},{"c":4,"d":2500,"v":0.000014},
{"c":5,"d":0,"v":0},{"c":5,"d":50,"v":0.000721},{"c":5,"d":100,"v":0.000912},{"c":5,"d":150,"v":0.001007},{"c":5,"d":250,"v":0.00106},{"c":5,"d":350,"v":0.001028},{"c":5,"d":500,"v":0.000912},{"c":5,"d":700,"v":0.00071},{"c":5,"d":900,"v":0.000519},{"c":5,"d":1100,"v":0.00036},{"c":5,"d":1400,"v":0.000196},{"c":5,"d":1700,"v":0.000101},{"c":5,"d":2000,"v":0.00005},{"c":5,"d":2500,"v":0.000014},
{"c":6,"d":0,"v":0},{"c":6,"d":50,"v":0.000707},{"c":6,"d":100,"v":0.000894},{"c":6,"d":150,"v":0.000988},{"c":6,"d":250,"v":0.00104},{"c":6,"d":350,"v":0.001009},{"c":6,"d":500,"v":0.000894},{"c":6,"d":700,"v":0.000697},{"c":6,"d":900,"v":0.00051},{"c":6,"d":1100,"v":0.000354},{"c":6,"d":1400,"v":0.000192},{"c":6,"d":1700,"v":0.000099},{"c":6,"d":2000,"v":0.000049},{"c":6,"d":2500,"v":0.000014},
{"c":7,"d":0,"v":0},{"c":7,"d":50,"v":0.000694},{"c":7,"d":100,"v":0.000877},{"c":7,"d":150,"v":0.000969},{"c":7,"d":250,"v":0.00102},{"c":7,"d":350,"v":0.000989},{"c":7,"d":500,"v":0.000877},{"c":7,"d":700,"v":0.000683},{"c":7,"d":900,"v":0.0005},{"c":7,"d":1100,"v":0.000347},{"c":7,"d":1400,"v":0.000189},{"c":7,"d":1700,"v":0.000097},{"c":7,"d":2000,"v":0.000048},{"c":7,"d":2500,"v":0.000013},
{"c":8,"d":0,"v":0},{"c":8,"d":50,"v":0.00068},{"c":8,"d":100,"v":0.00086},{"c":8,"d":150,"v":0.00095},{"c":8,"d":250,"v":0.001},{"c":8,"d":350,"v":0.00097},{"c":8,"d":500,"v":0.00086},{"c":8,"d":700,"v":0.00067},{"c":8,"d":900,"v":0.00049},{"c":8,"d":1100,"v":0.00034},{"c":8,"d":1400,"v":0.000185},{"c":8,"d":1700,"v":0.000095},{"c":8,"d":2000,"v":0.000047},{"c":8,"d":2500,"v":0.000013},
{"c":9,"d":0,"v":0},{"c":9,"d":50,"v":0.000666},{"c":9,"d":100,"v":0.000843},{"c":9,"d":150,"v":0.000931},{"c":9,"d":250,"v":0.00098},{"c":9,"d":350,"v":0.000951},{"c":9,"d":500,"v":0.000843},{"c":9,"d":700,"v":0.000657},{"c":9,"d":900,"v":0.00048},{"c":9,"d":1100,"v":0.000333},{"c":9,"d":1400,"v":0.000181},{"c":9,"d":1700,"v":0.000093},{"c":9,"d":2000,"v":0.000046},{"c":9,"d":2500,"v":0.000013},
{"c":10,"d":0,"v":0},{"c":10,"d":50,"v":0.000653},{"c":10,"d":100,"v":0.000826},{"c":10,"d":150,"v":0.000912},{"c":10,"d":250,"v":0.00096},{"c":10,"d":350,"v":0.000931},{"c":10,"d":500,"v":0.000826},{"c":10,"d":700,"v":0.000643},{"c":10,"d":900,"v":0.00047},{"c":10,"d":1100,"v":0.000326},{"c":10,"d":1400,"v":0.000178},{"c":10,"d":1700,"v":0.000091},{"c":10,"d":2000,"v":0.000045},{"c":10,"d":2500,"v":0.000012},
{"c":11,"d":0,"v":0},{"c":11,"d":50,"v":0.000583},{"c":11,"d":100,"v":0.000771},{"c":11,"d":150,"v":0.000865},{"c":11,"d":250,"v":0.000935},{"c":11,"d":350,"v":0.000935},{"c":11,"d":500,"v":0.000855},{"c":11,"d":700,"v":0.000696},{"c":11,"d":900,"v":0.000526},{"c":11,"d":1100,"v":0.000376},{"c":11,"d":1400,"v":0.000221},{"c":11,"d":1700,"v":0.000122},{"c":11,"d":2000,"v":0.000064},{"c":11,"d":2500,"v":0.000021},
{"c":12,"d":0,"v":0},{"c":12,"d":50,"v":0.000558},{"c":12,"d":100,"v":0.000738},{"c":12,"d":150,"v":0.000828},{"c":12,"d":250,"v":0.000896},{"c":12,"d":350,"v":0.000896},{"c":12,"d":500,"v":0.000819},{"c":12,"d":700,"v":0.000666},{"c":12,"d":900,"v":0.000504},{"c":12,"d":1100,"v":0.00036},{"c":12,"d":1400,"v":0.000212},{"c":12,"d":1700,"v":0.000117},{"c":12,"d":2000,"v":0.000061},{"c":12,"d":2500,"v":0.00002},
{"c":13,"d":0,"v":0},{"c":13,"d":50,"v":0.000413},{"c":13,"d":100,"v":0.000585},{"c":13,"d":150,"v":0.000688},{"c":13,"d":250,"v":0.0008},{"c":13,"d":350,"v":0.000851},{"c":13,"d":500,"v":0.00086},{"c":13,"d":700,"v":0.000774},{"c":13,"d":900,"v":0.000636},{"c":13,"d":1100,"v":0.000499},{"c":13,"d":1400,"v":0.000327},{"c":13,"d":1700,"v":0.000206},{"c":13,"d":2000,"v":0.000129},{"c":13,"d":2500,"v":0.00006},
{"c":14,"d":0,"v":0},{"c":14,"d":50,"v":0.000384},{"c":14,"d":100,"v":0.000544},{"c":14,"d":150,"v":0.00064},{"c":14,"d":250,"v":0.000744},{"c":14,"d":350,"v":0.000792},{"c":14,"d":500,"v":0.0008},{"c":14,"d":700,"v":0.00072},{"c":14,"d":900,"v":0.000592},{"c":14,"d":1100,"v":0.000464},{"c":14,"d":1400,"v":0.000304},{"c":14,"d":1700,"v":0.000192},{"c":14,"d":2000,"v":0.00012},{"c":14,"d":2500,"v":0.000056},
{"c":15,"d":0,"v":0},{"c":15,"d":50,"v":0.000365},{"c":15,"d":100,"v":0.000517},{"c":15,"d":150,"v":0.000608},{"c":15,"d":250,"v":0.000707},{"c":15,"d":350,"v":0.000752},{"c":15,"d":500,"v":0.00076},{"c":15,"d":700,"v":0.000684},{"c":15,"d":900,"v":0.000562},{"c":15,"d":1100,"v":0.000441},{"c":15,"d":1400,"v":0.000289},{"c":15,"d":1700,"v":0.000182},{"c":15,"d":2000,"v":0.000114},{"c":15,"d":2500,"v":0.000053}
]
},
"vconcat":[
{"hconcat":[
 {"width":1,"height":1,"view":{"stroke":null},"data":{"values":[]},"mark":"point"},
 {"hconcat":[
  {"hconcat":[
   {"width":298,"height":316,
    "layer":[
     {"data":{"name":"iso"},"mark":{"type":"line","color":"#999999","strokeWidth":0.9,"interpolate":"monotone"},
      "encoding":{
       "x":{"field":"x","type":"quantitative","scale":{"domain":[-850,28860],"nice":false,"zero":false},"axis":{"orient":"bottom","values":[0,10000,20000],"format":",d","labelFontSize":14,"labelColor":"#4d4d4d","tickSize":4,"tickColor":"#333333","labelPadding":2,"domain":false,"title":["Quantitative effectiveness","(# dispersed seeds in 25 years)"],"titleFontSize":16,"titleFontWeight":"bold","titleColor":"black","titleLineHeight":17.5,"titlePadding":8}},
       "y":{"field":"y","type":"quantitative","scale":{"domain":[-0.0025,0.0525],"nice":false,"zero":false},"axis":{"values":[0,0.01,0.02,0.03,0.04,0.05],"format":".2f","labelFontSize":14,"labelColor":"#4d4d4d","tickSize":4,"tickColor":"#333333","labelPadding":1.5,"domain":false,"title":["Qualitative effectiveness","(# recruits/# dispersed seeds)"],"titleFontSize":16,"titleFontWeight":"bold","titleColor":"black","titleLineHeight":17.5,"titlePadding":4}},
       "detail":{"field":"E","type":"nominal"}}},
     {"data":{"name":"isolab"},"mark":{"type":"text","fontSize":12.5,"font":"Liberation Sans","color":"#1a1a1a"},
      "encoding":{
       "x":{"field":"x","type":"quantitative","scale":{"domain":[-850,28860],"nice":false,"zero":false},"axis":{"orient":"top","title":"A.","labels":false,"ticks":false,"domain":false,"titleFont":"Open Sans","titleFontSize":26,"titleFontWeight":"normal","titleColor":"black","titleX":-68,"titleY":-13,"titleAlign":"left","titleBaseline":"alphabetic","titleAngle":0}},
       "y":{"field":"y","type":"quantitative","scale":{"domain":[-0.0025,0.0525],"nice":false,"zero":false},"axis":{"values":[0,0.01,0.02,0.03,0.04,0.05],"format":".2f","labelFontSize":14,"labelColor":"#4d4d4d","tickSize":4,"tickColor":"#333333","labelPadding":1.5,"domain":false,"title":["Qualitative effectiveness","(# recruits/# dispersed seeds)"],"titleFontSize":16,"titleFontWeight":"bold","titleColor":"black","titleLineHeight":17.5,"titlePadding":4}},
       "text":{"field":"E","type":"nominal"}}},
     {"data":{"name":"ptsA"},"mark":{"type":"circle","size":42,"opacity":1},
      "encoding":{
       "x":{"field":"x","type":"quantitative","scale":{"domain":[-850,28860],"nice":false,"zero":false},"axis":{"orient":"top","title":"Total","labels":false,"ticks":false,"domain":false,"titleFont":"Open Sans","titleFontSize":30,"titleFontWeight":"normal","titleColor":"black","titleX":132.7,"titleY":-13,"titleAlign":"center","titleBaseline":"alphabetic","titleAngle":0}},
       "y":{"field":"y","type":"quantitative","scale":{"domain":[-0.0025,0.0525],"nice":false,"zero":false},"axis":{"values":[0,0.01,0.02,0.03,0.04,0.05],"format":".2f","labelFontSize":14,"labelColor":"#4d4d4d","tickSize":4,"tickColor":"#333333","labelPadding":1.5,"domain":false,"title":["Qualitative effectiveness","(# recruits/# dispersed seeds)"],"titleFontSize":16,"titleFontWeight":"bold","titleColor":"black","titleLineHeight":17.5,"titlePadding":4}},
       "color":{"field":"g","type":"nominal","scale":{"domain":["Intermediate-distance","Long-distance","Short-distance","Total"],"range":["#F8766D","#7CAE00","#00BFC4","#C77CFF"]},
        "legend":{"orient":"none","legendX":263,"legendY":-114.7,"direction":"horizontal","title":null,"symbolType":"M0.25,0A0.25,0.25,0,1,1,-0.25,0A0.25,0.25,0,1,1,0.25,0ZM-1,-1H1V1H-1V-1V1H1V-1H-1","symbolSize":784,"symbolStrokeColor":"black","symbolStrokeWidth":1.2,"symbolDash":[0,40,1000,0],"symbolOpacity":1,"labelFont":"Liberation Sans","labelFontSize":20,"labelColor":"black","labelOffset":10,"columnPadding":10,"labelLimit":400,"padding":0}}}}
    ],
    "resolve":{"axis":{"x":"independent"}}},
   {"width":300,"height":316,
    "layer":[
     {"data":{"name":"iso"},"mark":{"type":"line","color":"#999999","strokeWidth":0.9,"interpolate":"monotone"},
      "encoding":{
       "x":{"field":"x","type":"quantitative","scale":{"domain":[-850,28860],"nice":false,"zero":false},"axis":{"orient":"bottom","values":[0,10000,20000],"format":",d","labelFontSize":14,"labelColor":"#4d4d4d","tickSize":4,"tickColor":"#333333","labelPadding":2,"domain":false,"title":["Quantitative effectiveness","(# dispersed seeds in 25 years)"],"titleFontSize":16,"titleFontWeight":"bold","titleColor":"black","titleLineHeight":17.5,"titlePadding":8}},
       "y":{"field":"y","type":"quantitative","scale":{"domain":[-0.0025,0.0525],"nice":false,"zero":false},"axis":{"values":[0,0.01,0.02,0.03,0.04,0.05],"format":".2f","labelFontSize":14,"labelColor":"#4d4d4d","tickSize":4,"tickColor":"#333333","labelPadding":1.5,"domain":false,"title":null}},
       "detail":{"field":"E","type":"nominal"}}},
     {"data":{"name":"isolab"},"mark":{"type":"text","fontSize":12.5,"font":"Liberation Sans","color":"#1a1a1a"},
      "encoding":{
       "x":{"field":"x","type":"quantitative","scale":{"domain":[-850,28860],"nice":false,"zero":false},"axis":{"orient":"top","title":"C.","labels":false,"ticks":false,"domain":false,"titleFont":"Open Sans","titleFontSize":26,"titleFontWeight":"normal","titleColor":"black","titleX":-51.7,"titleY":-16.5,"titleAlign":"left","titleBaseline":"alphabetic","titleAngle":0}},
       "y":{"field":"y","type":"quantitative","scale":{"domain":[-0.0025,0.0525],"nice":false,"zero":false},"axis":{"values":[0,0.01,0.02,0.03,0.04,0.05],"format":".2f","labelFontSize":14,"labelColor":"#4d4d4d","tickSize":4,"tickColor":"#333333","labelPadding":1.5,"domain":false,"title":null}},
       "text":{"field":"E","type":"nominal"}}},
     {"data":{"name":"ptsC"},"mark":{"type":"circle","size":42,"opacity":1},
      "encoding":{
       "x":{"field":"x","type":"quantitative","scale":{"domain":[-850,28860],"nice":false,"zero":false},"axis":{"orient":"top","title":"Badger","labels":false,"ticks":false,"domain":false,"titleFont":"Open Sans","titleFontSize":30,"titleFontWeight":"normal","titleColor":"black","titleX":150.5,"titleY":-15,"titleAlign":"center","titleBaseline":"alphabetic","titleAngle":0}},
       "y":{"field":"y","type":"quantitative","scale":{"domain":[-0.0025,0.0525],"nice":false,"zero":false},"axis":{"values":[0,0.01,0.02,0.03,0.04,0.05],"format":".2f","labelFontSize":14,"labelColor":"#4d4d4d","tickSize":4,"tickColor":"#333333","labelPadding":1.5,"domain":false,"title":null}},
       "color":{"field":"g","type":"nominal","scale":{"domain":["Intermediate-distance","Long-distance","Short-distance","Total"],"range":["#F8766D","#7CAE00","#00BFC4","#C77CFF"]},
        "legend":{"orient":"none","legendX":263,"legendY":-114.7,"direction":"horizontal","title":null,"symbolType":"M0.25,0A0.25,0.25,0,1,1,-0.25,0A0.25,0.25,0,1,1,0.25,0ZM-1,-1H1V1H-1V-1V1H1V-1H-1","symbolSize":784,"symbolStrokeColor":"black","symbolStrokeWidth":1.2,"symbolDash":[0,40,1000,0],"symbolOpacity":1,"labelFont":"Liberation Sans","labelFontSize":20,"labelColor":"black","labelOffset":10,"columnPadding":10,"labelLimit":400,"padding":0}}}}
    ],
    "resolve":{"axis":{"x":"independent"}}}
  ],"spacing":88},
  {"width":300,"height":316,
   "layer":[
    {"data":{"name":"iso"},"mark":{"type":"line","color":"#999999","strokeWidth":0.9,"interpolate":"monotone"},
     "encoding":{
      "x":{"field":"x","type":"quantitative","scale":{"domain":[-850,28860],"nice":false,"zero":false},"axis":{"orient":"bottom","values":[0,10000,20000],"format":",d","labelFontSize":14,"labelColor":"#4d4d4d","tickSize":4,"tickColor":"#333333","labelPadding":2,"domain":false,"title":["Quantitative effectiveness","(# dispersed seeds in 25 years)"],"titleFontSize":16,"titleFontWeight":"bold","titleColor":"black","titleLineHeight":17.5,"titlePadding":8}},
      "y":{"field":"y","type":"quantitative","scale":{"domain":[-0.0025,0.0525],"nice":false,"zero":false},"axis":{"values":[0,0.01,0.02,0.03,0.04,0.05],"format":".2f","labelFontSize":14,"labelColor":"#4d4d4d","tickSize":4,"tickColor":"#333333","labelPadding":1.5,"domain":false,"title":null}},
      "detail":{"field":"E","type":"nominal"}}},
    {"data":{"name":"isolab"},"mark":{"type":"text","fontSize":12.5,"font":"Liberation Sans","color":"#1a1a1a"},
     "encoding":{
      "x":{"field":"x","type":"quantitative","scale":{"domain":[-850,28860],"nice":false,"zero":false},"axis":{"orient":"top","title":"E.","labels":false,"ticks":false,"domain":false,"titleFont":"Open Sans","titleFontSize":26,"titleFontWeight":"normal","titleColor":"black","titleX":-30.6,"titleY":-16,"titleAlign":"left","titleBaseline":"alphabetic","titleAngle":0}},
      "y":{"field":"y","type":"quantitative","scale":{"domain":[-0.0025,0.0525],"nice":false,"zero":false},"axis":{"values":[0,0.01,0.02,0.03,0.04,0.05],"format":".2f","labelFontSize":14,"labelColor":"#4d4d4d","tickSize":4,"tickColor":"#333333","labelPadding":1.5,"domain":false,"title":null}},
      "text":{"field":"E","type":"nominal"}}},
    {"data":{"name":"ptsE"},"mark":{"type":"circle","size":42,"opacity":1},
     "encoding":{
      "x":{"field":"x","type":"quantitative","scale":{"domain":[-850,28860],"nice":false,"zero":false},"axis":{"orient":"top","title":"Fox","labels":false,"ticks":false,"domain":false,"titleFont":"Open Sans","titleFontSize":30,"titleFontWeight":"normal","titleColor":"black","titleX":147.7,"titleY":-16,"titleAlign":"center","titleBaseline":"alphabetic","titleAngle":0}},
      "y":{"field":"y","type":"quantitative","scale":{"domain":[-0.0025,0.0525],"nice":false,"zero":false},"axis":{"values":[0,0.01,0.02,0.03,0.04,0.05],"format":".2f","labelFontSize":14,"labelColor":"#4d4d4d","tickSize":4,"tickColor":"#333333","labelPadding":1.5,"domain":false,"title":null}},
      "color":{"field":"g","type":"nominal","scale":{"domain":["Intermediate-distance","Long-distance","Short-distance","Total"],"range":["#F8766D","#7CAE00","#00BFC4","#C77CFF"]},
       "legend":{"orient":"none","legendX":263,"legendY":-114.7,"direction":"horizontal","title":null,"symbolType":"M0.25,0A0.25,0.25,0,1,1,-0.25,0A0.25,0.25,0,1,1,0.25,0ZM-1,-1H1V1H-1V-1V1H1V-1H-1","symbolSize":784,"symbolStrokeColor":"black","symbolStrokeWidth":1.2,"symbolDash":[0,40,1000,0],"symbolOpacity":1,"labelFont":"Liberation Sans","labelFontSize":20,"labelColor":"black","labelOffset":10,"columnPadding":10,"labelLimit":400,"padding":0}}}}
   ],
   "resolve":{"axis":{"x":"independent"}}}
 ],"spacing":92.3}
],"spacing":-52},
{"hconcat":[
 {"hconcat":[
  {"width":372,"height":105,"view":{"stroke":null},
   "title":{"text":"B.","anchor":"start","frame":"group","dx":-46,"offset":-7,"baseline":"alphabetic","font":"Open Sans","fontSize":22,"fontWeight":"normal","color":"black"},
   "data":{"name":"curvB"},
   "mark":{"type":"line","color":"black","strokeWidth":1.8,"interpolate":"monotone"},
   "encoding":{
    "x":{"field":"d","type":"quantitative","scale":{"domain":[-100,2600],"nice":false,"zero":false},"axis":{"values":[0,500,1000,1500,2000,2500],"format":"d","labelFontSize":13.5,"labelColor":"black","tickSize":6,"tickColor":"black","domainColor":"black","labelPadding":3,"title":"Distance (m)","titleFontSize":15.5,"titleFontWeight":"normal","titleColor":"black","titlePadding":-1}},
    "y":{"field":"v","type":"quantitative","scale":{"domain":[-0.0000492,0.001279],"nice":false,"zero":false},"axis":{"values":[0,0.0002,0.0004,0.0006,0.0008,0.001,0.0012],"labelExpr":"datum.value == 0 ? '0.0000' : (abs(datum.value - 0.0008) < 0.00001 ? '0.0008' : '')","labelAngle":-90,"labelAlign":"center","labelBaseline":"alphabetic","labelFontSize":13.5,"labelColor":"black","tickSize":6,"tickColor":"black","domainColor":"black","labelPadding":2,"title":"Probability density","titleFontSize":15.5,"titleFontWeight":"normal","titleColor":"black","titlePadding":8}},
    "detail":{"field":"c","type":"nominal"}}},
  {"width":387,"height":107,"view":{"stroke":null},
   "title":{"text":"D.","anchor":"start","frame":"group","dx":-38.3,"offset":3,"baseline":"alphabetic","font":"Open Sans","fontSize":22,"fontWeight":"normal","color":"black"},
   "data":{"name":"curvD"},
   "mark":{"type":"line","color":"black","strokeWidth":1.5,"interpolate":"monotone"},
   "encoding":{
    "x":{"field":"d","type":"quantitative","scale":{"domain":[-100,2600],"nice":false,"zero":false},"axis":{"values":[0,500,1000,1500,2000,2500],"format":"d","labelFontSize":13.5,"labelColor":"black","tickSize":6,"tickColor":"black","domainColor":"black","labelPadding":3,"title":"Distance (m)","titleFontSize":15.5,"titleFontWeight":"normal","titleColor":"black","titlePadding":-1}},
    "y":{"field":"v","type":"quantitative","scale":{"domain":[-0.0000528,0.0013728],"nice":false,"zero":false},"axis":{"values":[0,0.0002,0.0004,0.0006,0.0008,0.001,0.0012],"labelExpr":"datum.value == 0 ? '0.0000' : (abs(datum.value - 0.0008) < 0.00001 ? '0.0008' : '')","labelAngle":-90,"labelAlign":"center","labelBaseline":"alphabetic","labelFontSize":13.5,"labelColor":"black","tickSize":6,"tickColor":"black","domainColor":"black","labelPadding":2,"title":null}},
    "detail":{"field":"c","type":"nominal"}}}
 ],"spacing":30.6},
 {"width":387,"height":102,"view":{"stroke":null},
  "title":{"text":"F.","anchor":"start","frame":"group","dx":-35,"offset":5,"baseline":"alphabetic","font":"Open Sans","fontSize":22,"fontWeight":"normal","color":"black"},
  "data":{"name":"curvF"},
  "mark":{"type":"line","color":"black","strokeWidth":1.5,"interpolate":"monotone"},
  "encoding":{
   "x":{"field":"d","type":"quantitative","scale":{"domain":[-100,2600],"nice":false,"zero":false},"axis":{"values":[0,500,1000,1500,2000,2500],"format":"d","labelFontSize":13.5,"labelColor":"black","tickSize":6,"tickColor":"black","domainColor":"black","labelPadding":3,"title":"Distance (m)","titleFontSize":15.5,"titleFontWeight":"normal","titleColor":"black","titlePadding":-1}},
   "y":{"field":"v","type":"quantitative","scale":{"domain":[-0.0000452,0.0011752],"nice":false,"zero":false},"axis":{"values":[0,0.0002,0.0004,0.0006,0.0008,0.001],"labelExpr":"datum.value == 0 ? '0e+00' : (abs(datum.value - 0.0008) < 0.00001 ? '8e-04' : '')","labelAngle":-90,"labelAlign":"center","labelBaseline":"alphabetic","labelFontSize":13.5,"labelColor":"black","tickSize":6,"tickColor":"black","domainColor":"black","labelPadding":2,"title":null}},
   "detail":{"field":"c","type":"nominal"}}}
],"spacing":33.7}
],
"spacing":30
}
